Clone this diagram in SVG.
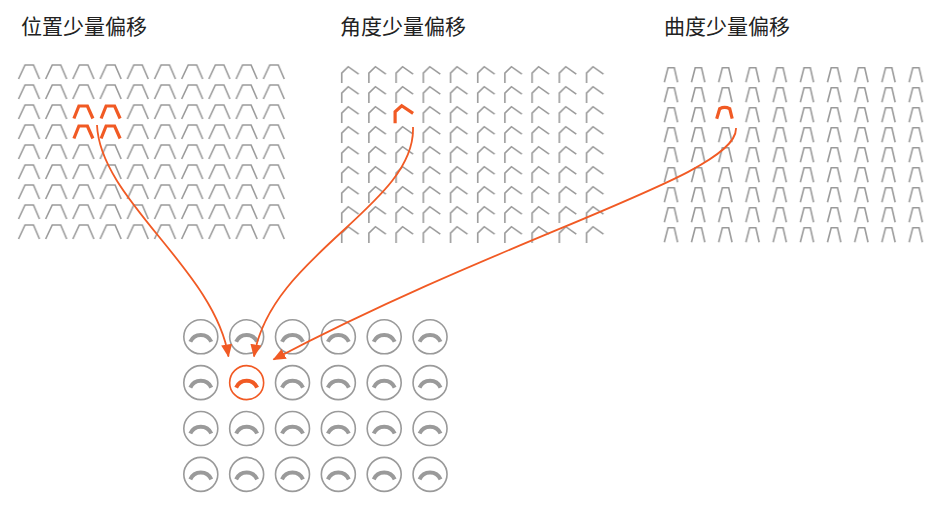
<svg xmlns="http://www.w3.org/2000/svg" xmlns:xlink="http://www.w3.org/1999/xlink" width="942" height="509" viewBox="0 0 942 509">
<style>
.title{font-family:"Noto Sans CJK SC","Noto Sans",sans-serif;font-size:21px;fill:#222}
.g{fill:none;stroke:#9a9a9a;stroke-width:1.6;stroke-linejoin:miter}
.hl{fill:none;stroke:#f15a24;stroke-width:3.2;stroke-linejoin:miter}
.ring{fill:#fff;stroke:#9a9a9a;stroke-width:1.6}
.arc{fill:none;stroke:#9a9a9a;stroke-width:4}
.ring.on{stroke:#f15a24}
.arc.on{stroke:#f15a24}
.link{fill:none;stroke:#f15a24;stroke-width:1.8}
</style>
<defs>
<pattern id="p1" patternUnits="userSpaceOnUse" x="15" y="62" width="27.2" height="20">
<polyline class="g" points="3.5,17 10,3 18.5,3 24.5,17"/>
</pattern>
<pattern id="p2" patternUnits="userSpaceOnUse" x="338" y="63" width="27.2" height="20">
<polyline class="g" points="3.7,20.5 3.7,10.2 10.2,3.7 20.7,11.2"/>
</pattern>
<pattern id="p3" patternUnits="userSpaceOnUse" x="660" y="64" width="27.2" height="20">
<polyline class="g" points="4.3,18.2 8,3.7 14.3,3.7 17.6,18.2"/>
</pattern>
<g id="cell">
<circle class="ring" r="17"/>
<path class="arc" d="M-10.5,5 A11.5,11.5 0 0 1 10.5,5"/>
</g>
<g id="cellOn">
<circle class="ring on" r="17"/>
<path class="arc on" d="M-10.5,5 A11.5,11.5 0 0 1 10.5,5"/>
</g>
<marker id="ah" markerUnits="userSpaceOnUse" markerWidth="13" markerHeight="11" refX="12" refY="5.5" orient="auto">
<path d="M0,0 L13,5.5 L0,11 z" fill="#f15a24"/>
</marker>
</defs>
<rect width="942" height="509" fill="#fff"/>

<g id="panel-position">
<text class="title" x="21" y="34">位置少量偏移</text>
<rect x="15" y="62" width="272" height="180" fill="url(#p1)"/>
<rect x="69.4" y="102" width="54.4" height="40" fill="#fff"/>
<polyline class="hl" points="73.9,118.5 78.9,106 87.4,106 92.9,118.5"/>
<polyline class="hl" points="101.1,118.5 106.1,106 114.6,106 120.1,118.5"/>
<polyline class="hl" points="73.9,138.5 78.9,126 87.4,126 92.9,138.5"/>
<polyline class="hl" points="101.1,138.5 106.1,126 114.6,126 120.1,138.5"/>
</g>

<g id="panel-angle">
<text class="title" x="340" y="34">角度少量偏移</text>
<rect x="338" y="63" width="272" height="180" fill="url(#p2)"/>
<rect x="392.4" y="103" width="27.2" height="20" fill="#fff"/>
<polyline class="hl" points="395.1,123.2 395.1,111.7 401.7,105.7 413.1,113.3"/>
</g>

<g id="panel-curvature">
<text class="title" x="664" y="34">曲度少量偏移</text>
<rect x="660" y="64" width="272" height="180" fill="url(#p3)"/>
<rect x="714.4" y="104" width="27.2" height="20" fill="#fff"/>
<path class="hl" d="M716.7,118.7 L719.7,108.7 Q724.7,106.2 729.7,108.7 L732.2,118.7"/>
</g>

<g id="grid">
<use xlink:href="#cell" x="200.8" y="336.8"/>
<use xlink:href="#cell" x="246.65" y="336.8"/>
<use xlink:href="#cell" x="292.5" y="336.8"/>
<use xlink:href="#cell" x="338.35" y="336.8"/>
<use xlink:href="#cell" x="384.2" y="336.8"/>
<use xlink:href="#cell" x="430.05" y="336.8"/>
<use xlink:href="#cell" x="200.8" y="382.65"/>
<use id="target" xlink:href="#cellOn" x="246.65" y="382.65"/>
<use xlink:href="#cell" x="292.5" y="382.65"/>
<use xlink:href="#cell" x="338.35" y="382.65"/>
<use xlink:href="#cell" x="384.2" y="382.65"/>
<use xlink:href="#cell" x="430.05" y="382.65"/>
<use xlink:href="#cell" x="200.8" y="428.5"/>
<use xlink:href="#cell" x="246.65" y="428.5"/>
<use xlink:href="#cell" x="292.5" y="428.5"/>
<use xlink:href="#cell" x="338.35" y="428.5"/>
<use xlink:href="#cell" x="384.2" y="428.5"/>
<use xlink:href="#cell" x="430.05" y="428.5"/>
<use xlink:href="#cell" x="200.8" y="474.35"/>
<use xlink:href="#cell" x="246.65" y="474.35"/>
<use xlink:href="#cell" x="292.5" y="474.35"/>
<use xlink:href="#cell" x="338.35" y="474.35"/>
<use xlink:href="#cell" x="384.2" y="474.35"/>
<use xlink:href="#cell" x="430.05" y="474.35"/>
</g>

<g id="connectors">
<path class="link" marker-end="url(#ah)" d="M97,125 C100,200 215,270 228.5,356.5"/>
<path class="link" marker-end="url(#ah)" d="M413,127 C416,205 270,255 254,356.5"/>
<path class="link" marker-end="url(#ah)" d="M736,128 C738,175 520,230 273.5,359.5"/>
</g>
</svg>
